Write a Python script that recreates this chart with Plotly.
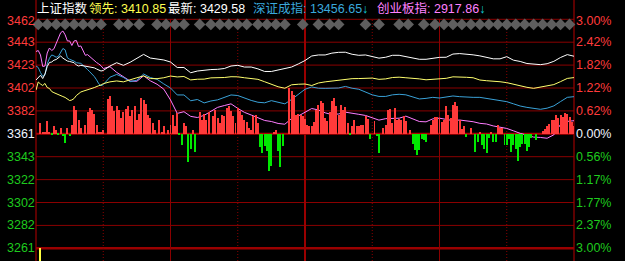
import plotly.graph_objects as go

# ---------------- data ----------------
MINUTES = list(range(0, 31)) + list(range(33, 241, 3))

SH_INDEX = [3408.7, 3410.9, 3412.9, 3410.0, 3414.0, 3420.6, 3424.1, 3424.5, 3426.1, 3426.7,
            3428.5, 3429.8, 3427.9, 3426.3, 3425.4, 3425.0, 3424.5, 3423.9, 3421.9, 3421.0,
            3421.6, 3421.2, 3420.8, 3420.4, 3420.4, 3419.9, 3419.4, 3418.4, 3417.5, 3416.6, 3417.1,
            3421.0, 3423.9, 3421.6, 3424.3, 3428.1, 3431.2, 3428.0, 3426.9, 3426.3, 3424.5,
            3419.7, 3419.7, 3415.1, 3416.6, 3417.4, 3417.9, 3418.1, 3418.8, 3421.0, 3421.6,
            3420.1, 3420.1, 3418.5, 3416.2, 3416.2, 3417.5, 3418.8, 3420.1, 3422.8, 3425.8,
            3429.8, 3430.7, 3430.7, 3432.3, 3433.0, 3433.1, 3431.3, 3430.4, 3430.7, 3429.2,
            3427.9, 3428.7, 3430.4, 3430.4, 3429.4, 3427.8, 3426.9, 3426.9, 3427.7, 3428.6,
            3428.7, 3431.5, 3431.9, 3431.5, 3430.8, 3429.9, 3428.7, 3427.3, 3427.3, 3429.2,
            3426.1, 3425.0, 3423.2, 3422.5, 3422.2, 3423.0, 3425.1, 3428.5, 3431.0, 3429.58]

LEAD = [3399.9, 3407.0, 3405.2, 3403.9, 3405.7, 3402.1, 3401.3, 3398.6, 3397.6, 3396.6,
        3395.6, 3394.7, 3394.2, 3393.4, 3391.8, 3390.7, 3391.2, 3392.5, 3395.1, 3397.1,
        3398.2, 3398.9, 3399.4, 3400.0, 3401.0, 3401.4, 3402.1, 3403.1, 3403.7, 3404.3, 3405.5,
        3407.1, 3407.9, 3407.1, 3409.2, 3410.7, 3412.3, 3410.0, 3409.9, 3410.7, 3412.2,
        3411.4, 3411.8, 3408.8, 3409.4, 3409.5, 3410.6, 3410.7, 3410.9, 3411.6, 3411.5,
        3410.7, 3409.9, 3409.3, 3407.2, 3405.0, 3402.8, 3401.5, 3404.5, 3405.0, 3405.2,
        3403.9, 3406.1, 3407.1, 3407.9, 3408.1, 3409.4, 3409.9, 3410.0, 3410.3, 3410.4,
        3409.3, 3409.7, 3410.9, 3411.2, 3410.7, 3410.5, 3409.7, 3408.9, 3409.3, 3409.9,
        3410.2, 3411.5, 3411.6, 3411.1, 3410.7, 3408.7, 3408.1, 3407.9, 3407.2, 3406.4,
        3405.0, 3403.5, 3402.3, 3401.4, 3402.3, 3403.5, 3404.7, 3407.3, 3410.1, 3410.85]

SZ_INDEX = [3421.0, 3419.7, 3415.3, 3411.9, 3413.3, 3422.8, 3427.8, 3430.7, 3429.9, 3428.7,
            3429.5, 3432.7, 3436.4, 3435.2, 3428.2, 3426.9, 3426.4, 3425.3, 3423.9, 3423.4,
            3423.3, 3421.6, 3420.0, 3417.9, 3415.9, 3414.1, 3411.8, 3408.9, 3405.4, 3403.8, 3404.6,
            3411.2, 3413.6, 3411.0, 3407.3, 3408.5, 3414.0, 3410.9, 3409.3, 3405.3, 3401.7,
            3395.6, 3395.6, 3390.5, 3391.6, 3388.6, 3390.3, 3391.3, 3393.4, 3395.6, 3395.1,
            3392.7, 3390.8, 3389.2, 3388.7, 3390.6, 3389.5, 3387.8, 3391.6, 3396.3, 3400.6,
            3402.6, 3401.5, 3401.4, 3401.7, 3401.7, 3403.1, 3401.5, 3400.6, 3398.1, 3395.7,
            3394.3, 3394.3, 3395.7, 3396.2, 3395.7, 3393.7, 3392.1, 3392.6, 3393.5, 3392.9,
            3394.0, 3394.7, 3394.1, 3393.5, 3393.5, 3393.5, 3392.6, 3391.8, 3391.2, 3389.7,
            3387.8, 3385.9, 3384.7, 3383.9, 3383.0, 3384.0, 3386.0, 3389.8, 3393.5, 3394.1]

CYB_INDEX = [3433.7, 3434.6, 3430.7, 3420.6, 3421.0, 3432.4, 3436.8, 3434.6, 3436.1, 3440.9,
             3446.0, 3450.2, 3451.7, 3448.4, 3443.0, 3443.0, 3439.0, 3443.0, 3443.4, 3438.1,
             3438.6, 3434.2, 3430.4, 3431.0, 3429.1, 3427.2, 3425.2, 3424.1, 3422.8, 3421.3, 3418.8,
             3420.4, 3415.4, 3411.7, 3407.8, 3407.6, 3412.4, 3408.0, 3405.0, 3400.7, 3391.2,
             3379.4, 3380.9, 3376.8, 3375.8, 3377.7, 3381.1, 3384.7, 3386.3, 3387.8, 3383.8,
             3380.3, 3378.0, 3375.7, 3373.2, 3372.3, 3370.6, 3369.9, 3374.9, 3377.1, 3380.6,
             3383.7, 3382.4, 3379.9, 3378.4, 3378.9, 3380.5, 3379.3, 3378.6, 3377.6, 3375.3,
             3373.5, 3374.8, 3375.0, 3375.2, 3377.0, 3374.9, 3372.3, 3372.0, 3374.6, 3375.2,
             3374.1, 3373.1, 3373.6, 3373.0, 3372.1, 3370.7, 3370.1, 3368.4, 3367.2, 3366.2,
             3364.1, 3361.9, 3360.4, 3358.6, 3358.3, 3357.6, 3360.6, 3369.8, 3372.4, 3373.0]

BAR_MINUTES = [2, 3, 4, 5, 6, 7, 8, 9, 10, 11, 12, 13, 14, 15, 16, 17, 18, 19, 20, 22,
               23, 24, 25, 26, 27, 28, 29, 30, 32, 33, 34, 35, 36, 37, 38, 39, 40, 41, 42, 43,
               44, 45, 46, 47, 48, 49, 50, 51, 52, 53, 55, 56, 57, 59, 60, 61, 62, 63, 64, 65,
               66, 67, 68, 69, 70, 71, 73, 74, 75, 76, 77, 79, 80, 81, 82, 83, 84, 85, 86, 87,
               88, 89, 90, 91, 92, 93, 94, 95, 96, 97, 98, 99, 100, 101, 102, 103, 104, 105, 106, 107,
               108, 109, 110, 113, 114, 115, 116, 117, 118, 119, 120, 121, 122, 123, 124, 125, 126, 127, 128, 129,
               130, 131, 132, 133, 134, 135, 136, 137, 138, 139, 140, 141, 142, 143, 144, 145, 146, 147, 148, 149,
               151, 152, 153, 155, 156, 157, 158, 159, 160, 161, 162, 163, 164, 165, 167, 168, 169, 170, 171, 172,
               173, 174, 176, 177, 178, 179, 180, 181, 182, 183, 184, 185, 186, 187, 188, 189, 190, 191, 192, 194,
               196, 197, 198, 199, 200, 201, 202, 203, 204, 205, 206, 207, 208, 209, 210, 211, 212, 213, 214, 215,
               216, 217, 218, 219, 220, 221, 223, 226, 227, 228, 229, 230, 231, 232, 233, 234, 235, 236, 237, 238,
               239, 240]
BAR_VALUES = [10.7, 1, 1.7, 12.7, 2.3, -1, 7.7, 4.3, -1, 6, -2, -9, 5.7, -2, 9.3, 27.7, 24.3, 14.3, 6, 8.7,
              22.3, 26, 24.3, 20.3, 9.3, 1.7, 1.7, 4.3, 35, 37.7, 27.7, 22.7, 27.7, 24.3, 16, 21.7, 25, 27.7, 17.7, 24.3,
              27.7, 14.3, 20.3, 36, 33.7, 30.3, 19.3, 16, 11, 4.3, 14.3, 1.7, 7.7, 4.3, 9, 19.3, 7.7, 21, -1, -10.7,
              11, 8.3, -28.3, -15, 4.3, -18.3, 21.7, 14.3, 20.3, 14.3, 21.7, 17.7, 24.3, 16, 11, 19.3, 18.3, 26, 28.3, 22.7,
              18.3, 11, 26, 22.7, 19.3, 14.3, 11.7, 6, 4.3, 18.3, 19.3, 11, -13.5, -19, -12.5, -17.5, -37, -32.5, 1, 3.7,
              -17, -33, -12.5, 46, 42.7, 39.3, 19.3, 20.3, 19.3, 18.3, 15, 9.3, 8.3, 7.7, 11.7, 24.3, 29.3, 32.7, 31, 16,
              12.7, 21.7, 32.7, 36, 28.3, 19.3, 29.3, 24.3, 27, 11, -1, 7.7, 14.3, 8.3, 8.3, 9.3, 9.3, 17.7, 15, -5,
              12.7, -2.3, -19, 6, 9.3, 24.3, 25, 11, 26, 14.3, 15, 14.3, 17.7, 12.7, 4.3, -10, -16.3, -20.7, -15.7, -5,
              -6, -8, 8.7, 13.7, 16.5, 16.7, 15.7, 11.5, 13.7, 27.7, 18.7, 16.3, 28.7, 32, 27.7, 14.3, 5.3, 7.7, -3, 6.3,
              -18, -8, 2, -11.3, -14.7, -19, -3.7, 2, -8, -8, 8.7, 6.3, 6.3, -11.3, -11.3, -4.7, -18, -11.3, -14.7, -27,
              -13, -9.7, -9.7, -17, -13, -3.7, -6.3, 3, 5.3, 7.7, 10.3, 13.7, 14.3, 19.3, 16.3, 18.7, 17, 21, 19.7, 17,
              12, 7.7]

VOL_MINUTES = [2]
VOL_VALUES = [13]

MARK_MINUTES = [1, 5, 9, 13, 17, 21, 25, 29, 37, 41, 46, 54, 58, 62, 66, 73, 78, 82, 86, 90,
                94, 99, 103, 107, 111, 119, 126, 131, 135, 147, 153, 162, 166, 173, 178, 182, 186, 190, 194, 198,
                202, 206, 210, 214, 218, 222, 226, 230, 234, 238]

LEFT_LABELS = ["3462", "3443", "3423", "3402", "3382", "3361", "3343", "3322", "3302", "3282", "3261"]
RIGHT_LABELS = ["3.00%", "2.42%", "1.82%", "1.22%", "0.62%", "0.00%", "0.56%", "1.17%", "1.77%", "2.37%", "3.00%"]

TITLE_NAME = "上证指数"
LEAD_LABEL, LEAD_VALUE = "领先", "3410.85"
LAST_LABEL, LAST_VALUE = "最新", "3429.58"
SZ_LABEL, SZ_VALUE = "深证成指", "13456.65"
CYB_LABEL, CYB_VALUE = "创业板指", "2917.86"

# ---------------- layout constants ----------------
W, H = 625, 261
ML, MR = 36, 51
PREV = 3361.5
STEP = 20.1
Y_RANGE = [3249.86, 3478.94]
Y2_RANGE = [-127.2, 133.8]
FONT = "Liberation Sans, Arial, Noto Sans CJK SC, sans-serif"
GRID = "#8a0000"
RED_TXT, GREEN_TXT, WHITE_TXT = "#ff3b3b", "#1ecb1e", "#f0f4ff"

fig = go.Figure()

fig.add_trace(go.Bar(x=BAR_MINUTES, y=BAR_VALUES, base=0, width=0.44, yaxis="y2",
                     marker=dict(color=["#ff3a3a" if v >= 0 else "#00e800" for v in BAR_VALUES],
                                 line=dict(width=0)),
                     hoverinfo="skip"))
fig.add_trace(go.Bar(x=VOL_MINUTES, y=VOL_VALUES, width=0.44, yaxis="y3",
                     marker=dict(color="#ffff40", line=dict(width=0)), hoverinfo="skip"))

for series, color in [(CYB_INDEX, "#ff7cff"), (SZ_INDEX, "#3aa2d8"),
                      (LEAD, "#ffff6e"), (SH_INDEX, "#ffffff")]:
    fig.add_trace(go.Scatter(x=MINUTES, y=series, mode="lines",
                             line=dict(color=color, width=1), hoverinfo="skip"))

DIAMOND_ROW = PREV + 5 * STEP - 4.5
fig.add_trace(go.Scatter(x=MARK_MINUTES, y=[DIAMOND_ROW] * len(MARK_MINUTES), mode="markers",
                         marker=dict(symbol="diamond", size=9, color="#5e5e5e", line=dict(width=0)),
                         cliponaxis=False, hoverinfo="skip"))

shapes = []
for k in range(5, -6, -1):
    yv = PREV + k * STEP
    w, c = 1, GRID
    if k == 0:
        w, c = 2, "#b00000"
    if k == -5:
        w, c = 2.5, "#9a0000"
    shapes.append(dict(type="line", xref="paper", yref="y", x0=0, x1=1, y0=yv, y1=yv,
                       line=dict(color=c, width=w), layer="below"))
top_grid = PREV + 5 * STEP
for m in [30, 90, 150, 210]:
    shapes.append(dict(type="line", xref="x", yref="y", x0=m, x1=m, y0=Y_RANGE[0], y1=top_grid,
                       line=dict(color=GRID, width=1, dash="1px,2px"), layer="below"))
for m in [60, 180]:
    shapes.append(dict(type="line", xref="x", yref="y", x0=m, x1=m, y0=Y_RANGE[0], y1=top_grid,
                       line=dict(color=GRID, width=1), layer="below"))
shapes.append(dict(type="line", xref="x", yref="paper", x0=120, x1=120, y0=0, y1=1,
                   line=dict(color="#9a0000", width=2), layer="below"))
for xp in [0, 1]:
    shapes.append(dict(type="line", xref="paper", yref="paper", x0=xp, x1=xp, y0=0, y1=1,
                       line=dict(color="#9a0000", width=1.2), layer="below"))

ann = []
for i, (lt, rt) in enumerate(zip(LEFT_LABELS, RIGHT_LABELS)):
    k = 5 - i
    yv = PREV + k * STEP
    col = RED_TXT if k > 0 else (WHITE_TXT if k == 0 else GREEN_TXT)
    ys = -1.5 if k == 5 else 0
    ann.append(dict(xref="paper", yref="y", x=0, y=yv, text=lt, showarrow=False,
                    xanchor="right", yanchor="middle", yshift=ys, xshift=1,
                    font=dict(family=FONT, size=12.5, color=col)))
    ann.append(dict(xref="paper", yref="y", x=1, y=yv, text=rt, showarrow=False,
                    xanchor="left", yanchor="middle", yshift=ys, xshift=0,
                    font=dict(family=FONT, size=12.5, color=col)))


def px2paper(px):
    return (px - ML - 2) / (W - ML - MR)


TY = 1 - 8.5 / H
ARROW = "<span style='color:#10c8d8'>↓</span>"
title_items = [
    (37, TITLE_NAME, "#ffffff"),
    (89, f"{LEAD_LABEL}: {LEAD_VALUE}", "#ffff50"),
    (168, f"{LAST_LABEL}: {LAST_VALUE}", "#ffffff"),
    (253, f"{SZ_LABEL}: {SZ_VALUE}{ARROW}", "#3aa8dc"),
    (377, f"{CYB_LABEL}: {CYB_VALUE}{ARROW}", "#ff80ff"),
]
for px, txt, col in title_items:
    ann.append(dict(xref="paper", yref="paper", x=px2paper(px), y=TY, text=txt, showarrow=False,
                    xanchor="left", yanchor="middle",
                    font=dict(family=FONT, size=12.5, color=col)))

fig.update_layout(
    width=W, height=H,
    margin=dict(l=ML, r=MR, t=0, b=0, pad=0),
    paper_bgcolor="#000000", plot_bgcolor="#000000",
    showlegend=False, barmode="overlay", bargap=0,
    xaxis=dict(range=[0, 240], visible=False, fixedrange=True),
    yaxis=dict(range=Y_RANGE, visible=False, fixedrange=True),
    yaxis2=dict(range=Y2_RANGE, overlaying="y", visible=False, fixedrange=True),
    yaxis3=dict(range=[0, H], overlaying="y", visible=False, fixedrange=True),
    shapes=shapes, annotations=ann,
)

fig.write_html("out.html")
